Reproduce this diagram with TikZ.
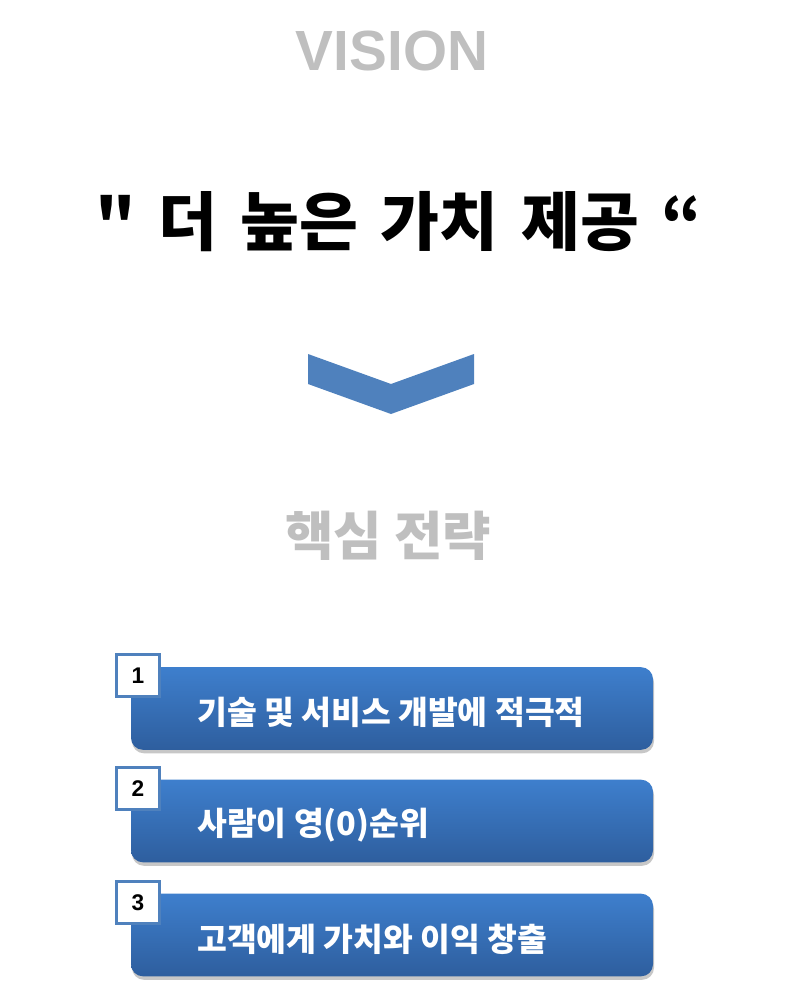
\documentclass[tikz,border=0pt]{standalone}
\usepackage{fontspec}
\setmainfont{Noto Sans CJK KR}[Ligatures=TeXOff]
\newfontfamily\latinfont{Liberation Sans}
\usepackage{tikz}
\usetikzlibrary{positioning}

\definecolor{chevblue}{RGB}{79,129,189}
\definecolor{boxtop}{RGB}{62,127,205}
\definecolor{boxbottom}{RGB}{46,94,158}
\definecolor{labelgray}{RGB}{191,191,191}

\tikzset{
  strategy/.style={rounded corners=9pt, minimum width=391.5pt, minimum height=62pt, inner sep=0pt, top color=boxtop, bottom color=boxbottom},
  stratshadow/.style={rounded corners=9pt, minimum width=391.5pt, minimum height=62pt, inner sep=0pt, fill=black, opacity=0.22},
  numbox/.style={draw=chevblue, line width=2.2pt, fill=white, minimum size=32pt, inner sep=0pt, font=\latinfont\bfseries\fontsize{17}{17}\selectfont},
  strattext/.style={anchor=west, inner sep=0pt, text=white, font=\bfseries\fontsize{24.3}{24.3}\selectfont},
  heading/.style={inner sep=0pt, text=labelgray}
}

\begin{document}
\begin{tikzpicture}[x=0.75pt,y=0.75pt,yscale=-1,xscale=1]
\useasboundingbox (0,0) rectangle (800,991);

% Text Node
\node [heading, font=\latinfont\bfseries\fontsize{42.5}{42.5}\selectfont] (vision) at (392,51) {VISION};
% Text Node
\node [inner sep=0pt, font=\bfseries\fontsize{48}{48}\selectfont] (motto) at (399,222) {\spaceskip 17pt\relax " 더 높은 가치 제공 “};

%Shape: Chevron
\fill [chevblue] (308,354) -- (391,384) -- (474,354) -- (474,384) -- (391,414) -- (308,384) -- cycle ;

% Text Node
\node [heading, font=\bfseries\fontsize{39.5}{39.5}\selectfont] (core) at (388,536) {핵심 전략};

%Shape: Rounded Rectangle
\node [stratshadow] (shadow1) at (393,712) {};
\node [strategy] (box1) at (392,708.5) {};
\node [strattext] (text1) at (197,712) {기술 및 서비스 개발에 적극적};
\node [numbox] (num1) at (138,675.5) {1};

%Shape: Rounded Rectangle
\node [stratshadow] (shadow2) at (393,824.5) {};
\node [strategy] (box2) at (392,821) {};
\node [strattext] (text2) at (197,825) {사람이 영(0)순위};
\node [numbox] (num2) at (138,788.5) {2};

%Shape: Rounded Rectangle
\node [stratshadow] (shadow3) at (393,938.5) {};
\node [strategy] (box3) at (392,935) {};
\node [strattext] (text3) at (197,939) {고객에게 가치와 이익 창출};
\node [numbox] (num3) at (138,902.5) {3};

\end{tikzpicture}
\end{document}
